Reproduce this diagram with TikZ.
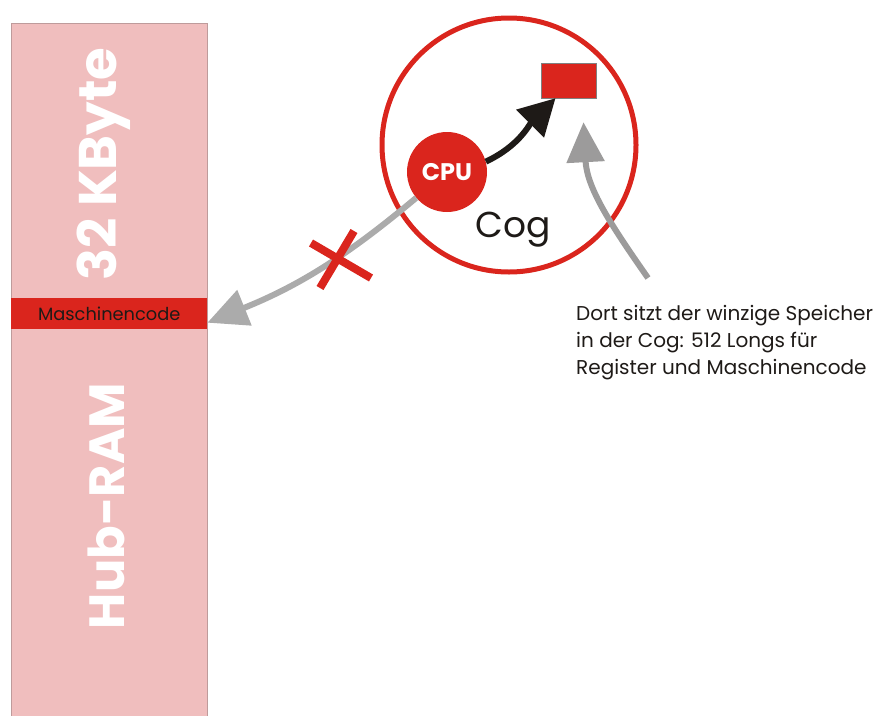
\documentclass[tikz,border=0pt]{standalone}
\usepackage{fontspec}
\setmainfont{Poppins}
\usetikzlibrary{arrows.meta}

\definecolor{cogred}{HTML}{DA251D}
\definecolor{rampink}{HTML}{F0BEBE}
\definecolor{ramedge}{HTML}{BE9B9B}
\definecolor{linkgray}{HTML}{ABABAB}
\definecolor{hintgray}{HTML}{9C9B9B}
\definecolor{inkblack}{HTML}{1E1A17}

\begin{document}
\begin{tikzpicture}[x=1pt,y=-1pt,
    ramlabel/.style={text=white,rotate=90,font=\bfseries\fontsize{#1}{#1}\selectfont},
    flow/.style={line width=6pt,-{Triangle[length=40pt,width=37pt]}},
    crossmark/.style={draw=cogred,line width=8pt}]
  \useasboundingbox (0,0) rectangle (875,715);

  % Hub-RAM
  \node[draw=ramedge,fill=rampink,anchor=north west,minimum width=196,minimum height=700,inner sep=0] (ram) at (11,23) {};
  \node[fill=cogred,anchor=north west,minimum width=196,minimum height=31,inner sep=0,
        font=\fontsize{17.8}{17.8}\selectfont,text=inkblack] (code) at (11,298) {Maschinencode};
  \node[ramlabel=53] (size) at (104,164) {32 KByte};
  \node[ramlabel=49.5] (hub) at (106,506) {Hub-RAM};

  % Cog
  \coordinate (hint) at (648,278);
  \coordinate (cut) at (340,260);
  \node[circle,draw=cogred,line width=5pt,minimum size=254,inner sep=0] (cog) at (509,145) {};
  \node[circle,fill=cogred,minimum size=80,inner sep=0,text=white,
        font=\bfseries\fontsize{24}{24}\selectfont] (cpu) at (447,172) {CPU};
  \node[fill=cogred,draw=gray,line width=0.4pt,minimum width=55,minimum height=35,inner sep=0] (reg) at (568.5,80.5) {};
  \node[font=\fontsize{36}{36}\selectfont,text=inkblack] (coglabel) at (513,230) {Cog};

  \draw[flow,linkgray] (cpu.220) to[out=220,in=22] ([yshift=-9pt]code.east);
  \draw[flow,hintgray] (hint) to[out=125,in=273] ([xshift=15pt,yshift=-24pt]reg.south);
  \draw[crossmark] (cut) +(-29,-17) -- +(31,18);
  \draw[crossmark] (cut) +(14,-29) -- +(-20,28);
  \draw[flow,inkblack,-{Triangle[length=36pt,width=38pt]}] (cpu.15) to[out=25,in=225] ([xshift=-13pt]reg.south);

  % Text
  \node[anchor=north west,align=left,inner sep=0,text=inkblack,
        font=\fontsize{20}{27}\selectfont] (note) at (576,305)
        {Dort sitzt der winzige Speicher\\in der Cog: 512 Longs für\\Register und Maschinencode};
\end{tikzpicture}
\end{document}
